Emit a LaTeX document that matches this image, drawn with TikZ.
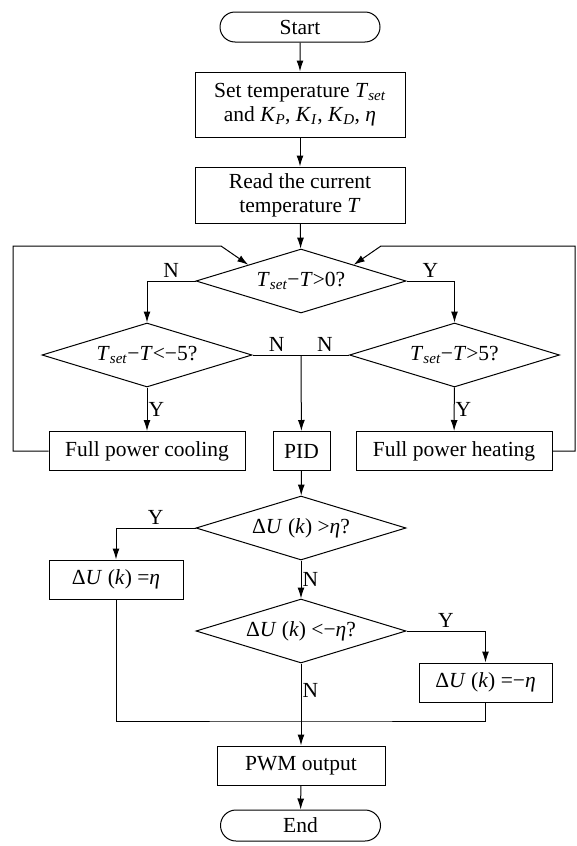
\documentclass[tikz,border=0pt]{standalone}
\usepackage{fontspec}
\setmainfont{Liberation Serif}
\usepackage{tikz}
\usetikzlibrary{shapes.geometric,shapes.misc,arrows.meta}

\newcommand{\Tset}{\textit{T}\textsubscript{\textit{set}}}
\newcommand{\dUk}{Δ\textit{U} (\textit{k})}

\begin{document}
\begin{tikzpicture}[x=1pt,y=-1pt,line width=1pt,
        font=\fontsize{21.5}{24}\selectfont,
        term/.style={draw,rounded rectangle,minimum width=160pt,minimum height=30pt,inner sep=0pt},
        proc/.style={draw,rectangle,minimum height=39pt,inner sep=2pt,align=center},
        cond/.style={draw,diamond,aspect=3.3,minimum width=210pt,minimum height=64pt,inner sep=0pt},
        arr/.style={-{Latex[length=11pt,width=7pt]}}]
        \useasboundingbox (0,0) rectangle (576,846);

        %start and input
        \node[term] (start) at (300,27) {Start};
        \node[proc,minimum width=210pt,minimum height=65pt] (set) at (300,104.5) {Set temperature \Tset\\and \textit{K}\textsubscript{\textit{P}}, \textit{K}\textsubscript{\textit{I}}, \textit{K}\textsubscript{\textit{D}}, \textit{η}};
        \node[proc,minimum width=210pt,minimum height=56pt] (read) at (300,195) {Read the current\\temperature \textit{T}};

        %decisions on temperature
        \node[cond] (d0) at (301,281) {\Tset−\textit{T}>0?};
        \node[cond] (dcool) at (147,355) {\Tset−\textit{T}<−5?};
        \node[cond] (dheat) at (454.5,355) {\Tset−\textit{T}>5?};
        \coordinate (split) at (301,355);

        %actions
        \node[proc,minimum width=196pt] (cool) at (147,451) {Full power cooling};
        \node[proc,minimum width=57pt] (pid) at (301.5,451) {PID};
        \node[proc,minimum width=196pt] (heat) at (454,451) {Full power heating};

        %limiting
        \node[cond] (dup) at (301,528) {\dUk{} >\textit{η}?};
        \node[proc,minimum width=134pt] (up) at (116,579.5) {\dUk{} =\textit{η}};
        \node[cond] (ddn) at (301,631) {\dUk{} <−\textit{η}?};
        \node[proc,minimum width=133pt] (dn) at (485.5,682.5) {\dUk{} =−\textit{η}};
        \coordinate (merge) at (301,721);

        %output and end
        \node[proc,minimum width=168pt] (pwm) at (301,765.5) {PWM output};
        \node[term,minimum height=31pt] (stop) at (300.5,825.5) {End};

        %main arrows
        \draw[arr] (start) -- (set);
        \draw[arr] (set) -- (read);
        \draw[arr] (read) -- (d0);
        \draw[arr] (d0.west) -| (dcool.north) node[pos=0.25, above] {N};
        \draw[arr] (d0.east) -| (dheat.north) node[pos=0.25, above] {Y};
        \draw (dcool.east) -- (dheat.west) node[pos=0.25, above] {N} node[pos=0.75, above] {N};
        \draw[arr] (split) -- (pid);
        \draw[arr] (dcool) -- (cool) node[midway, right, inner sep=1pt] {Y};
        \draw[arr] (dheat) -- (heat) node[midway, right, inner sep=1pt] {Y};

        %feedback loops
        \coordinate (lc) at (13,246);
        \coordinate (rc) at (575,246);
        \draw[arr] (cool.west) -| (lc) -- ++(208,0) -- (d0.north west);
        \draw[arr] (heat.east) -| (rc) -- ++(-194,0) -- (d0.north east);

        %limit checks
        \draw[arr] (pid) -- (dup);
        \draw[arr] (dup.west) -| (up.north) node[pos=0.25, above] {Y};
        \draw[arr] (dup) -- (ddn) node[midway, right, inner sep=1pt] {N};
        \draw[arr] (ddn.east) -| (dn.north) node[pos=0.25, above] {Y};
        \draw[arr] (ddn) -- (pwm) node[pos=0.33, right, inner sep=1pt] {N};
        \draw (up.south) |- (merge) -| (dn.south);

        \draw[arr] (pwm) -- (stop);
\end{tikzpicture}
\end{document}
